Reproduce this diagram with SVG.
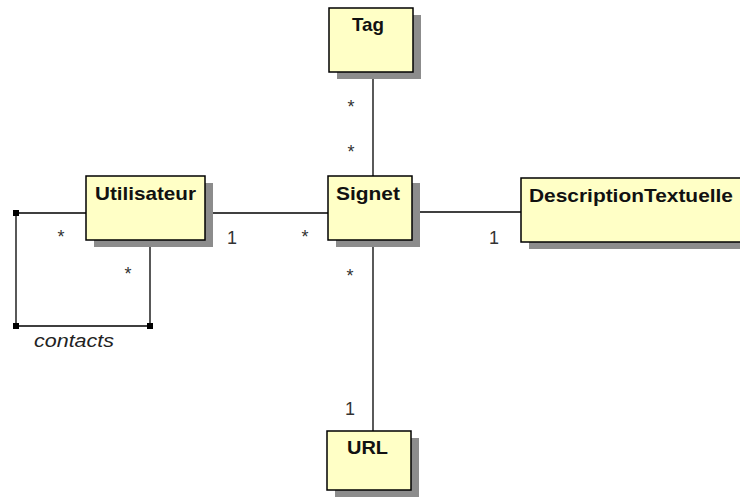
<svg xmlns="http://www.w3.org/2000/svg" width="740" height="500" viewBox="0 0 740 500">
<style>
.box{fill:#ffffc6;stroke:#000;stroke-width:1.5}
.shadow{fill:#8c8c8c}
.name{font-family:"Liberation Sans",Arial,sans-serif;font-weight:bold;font-size:19px;fill:#111}
.mult{font-family:"Liberation Sans",Arial,sans-serif;font-size:18px;fill:#333;text-anchor:middle}
.role{font-family:"Liberation Sans",Arial,sans-serif;font-style:italic;font-size:19px;fill:#222}
.line{stroke:#000;stroke-width:1.3;fill:none}
.sq{fill:#000}
</style>
<g id="connectors">
<line class="line" x1="373" y1="72" x2="373" y2="176"/>
<line class="line" x1="205" y1="213" x2="328" y2="213"/>
<line class="line" x1="412" y1="212" x2="521" y2="212"/>
<line class="line" x1="373" y1="240" x2="373" y2="431"/>
<polyline class="line" points="86,213 16,213 16,326 150,326 150,247"/>
<rect class="sq" x="13" y="210" width="6" height="6"/>
<rect class="sq" x="13" y="323" width="6" height="6"/>
<rect class="sq" x="147" y="323" width="6" height="6"/>
<text class="mult" x="351" y="113">*</text>
<text class="mult" x="351" y="158">*</text>
<text class="mult" x="61" y="243">*</text>
<text class="mult" x="128" y="280">*</text>
<text class="mult" x="232" y="244">1</text>
<text class="mult" x="305" y="243">*</text>
<text class="mult" x="350" y="282">*</text>
<text class="mult" x="350" y="415">1</text>
<text class="mult" x="494" y="244">1</text>
<text class="role" x="34" y="347" textLength="80" lengthAdjust="spacingAndGlyphs">contacts</text>
</g>
<g id="Tag">
<rect class="shadow" x="337" y="15" width="84" height="64"/>
<rect class="box" x="329" y="8" width="84" height="64"/>
<text class="name" x="352" y="31" textLength="32" lengthAdjust="spacingAndGlyphs">Tag</text>
</g>
<g id="Utilisateur">
<rect class="shadow" x="94" y="183" width="119" height="64"/>
<rect class="box" x="86" y="176" width="119" height="64"/>
<text class="name" x="95" y="200" textLength="101" lengthAdjust="spacingAndGlyphs">Utilisateur</text>
</g>
<g id="Signet">
<rect class="shadow" x="336" y="183" width="84" height="64"/>
<rect class="box" x="328" y="176" width="84" height="64"/>
<text class="name" x="336" y="200" textLength="64" lengthAdjust="spacingAndGlyphs">Signet</text>
</g>
<g id="DescriptionTextuelle">
<rect class="shadow" x="529" y="185" width="230" height="64"/>
<rect class="box" x="521" y="178" width="230" height="64"/>
<text class="name" x="529" y="202" textLength="204" lengthAdjust="spacingAndGlyphs">DescriptionTextuelle</text>
</g>
<g id="URL">
<rect class="shadow" x="335" y="438" width="84" height="59"/>
<rect class="box" x="327" y="431" width="84" height="59"/>
<text class="name" x="347" y="454" textLength="41" lengthAdjust="spacingAndGlyphs">URL</text>
</g>
</svg>
